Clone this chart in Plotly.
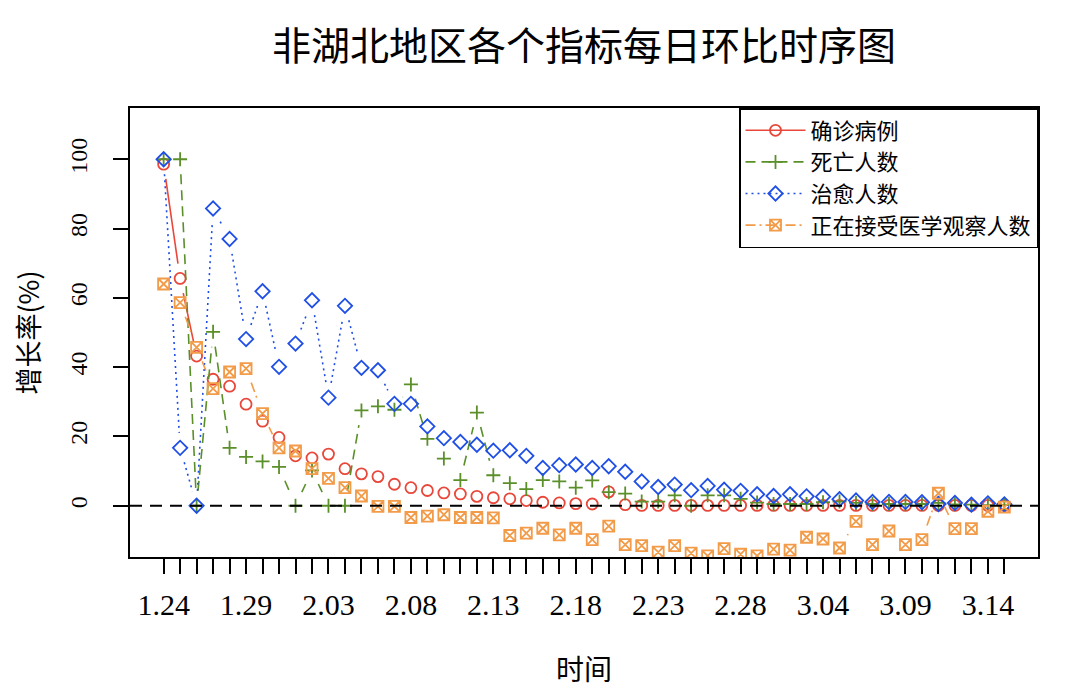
import math
import plotly.graph_objects as go

# ---------------- data ----------------
days = ["1.24", "1.25", "1.26", "1.27", "1.28", "1.29", "1.30", "1.31",
        "2.01", "2.02", "2.03", "2.04", "2.05", "2.06", "2.07", "2.08", "2.09", "2.10",
        "2.11", "2.12", "2.13", "2.14", "2.15", "2.16", "2.17", "2.18", "2.19", "2.20",
        "2.21", "2.22", "2.23", "2.24", "2.25", "2.26", "2.27", "2.28", "2.29",
        "3.01", "3.02", "3.03", "3.04", "3.05", "3.06", "3.07", "3.08", "3.09", "3.10",
        "3.11", "3.12", "3.13", "3.14", "3.15"]

confirmed = [98.6, 65.6, 43.2, 36.5, 34.5, 29.3, 24.4, 19.7, 14.4, 13.8,
             14.9, 10.7, 9.2, 8.4, 6.2, 5.2, 4.4, 3.7, 3.4, 2.7,
             2.3, 2.0, 1.5, 1.0, 0.8, 0.6, 0.5, 4.0, 0.3, 0.1,
             0.1, 0.1, 0.1, 0.1, 0.1, 0.1, 0.1, 0.1, 0.1, 0.1,
             0.1, 0.1, 0.1, 0.1, 0.1, 0.1, 0.1, 0.1, 0.1, 0.1, 0.1, 0.1]

deaths = [100, 100, 0, 50.2, 16.7, 14.1, 12.8, 11.2, 0, 10.2,
          0, 0, 27.5, 28.7, 27.7, 35.0, 19.3, 13.6, 7.4, 26.9,
          8.8, 6.5, 4.8, 7.4, 7.0, 5.2, 7.3, 3.9, 3.5, 1.2,
          1.2, 3.0, 0, 3.0, 3.0, 2.0, 0.9, 0.5, 0.5, 0.5,
          1.0, 1.2, 0.8, 0.5, 0.5, 0.5, 0.5, 0.8, 0.4, 0.3, 0.2, 0.2]

cured = [100, 16.7, 0, 85.8, 77.0, 48.1, 61.9, 40.1, 46.8, 59.3,
         31.2, 57.7, 39.8, 39.1, 29.4, 29.4, 22.9, 19.5, 18.4, 17.6,
         15.9, 16.0, 14.4, 10.9, 11.7, 11.9, 10.9, 11.4, 9.8, 7.0,
         5.4, 6.1, 4.5, 5.7, 4.6, 4.3, 3.3, 2.8, 3.3, 2.7,
         2.6, 1.9, 1.5, 1.1, 1.1, 1.1, 1.0, 0.5, 0.8, 0.3, 0.7, 0.4]

observation = [64.0, 58.6, 45.7, 33.8, 38.6, 39.6, 26.6, 16.7, 15.8, 10.7,
               7.9, 5.2, 2.8, -0.2, -0.2, -3.4, -3.0, -2.6, -3.4, -3.4,
               -3.5, -8.6, -7.9, -6.5, -8.4, -6.5, -9.8, -5.9, -11.2, -11.5,
               -13.4, -11.5, -13.7, -14.5, -12.4, -14.0, -14.5, -12.5, -12.8, -9.1,
               -9.6, -12.2, -4.5, -11.2, -7.3, -11.2, -9.8, 3.6, -6.6, -6.6, -1.6, -0.4]

series_names = ["确诊病例", "死亡人数", "治愈人数", "正在接受医学观察人数"]
y_ticks = [0, 20, 40, 60, 80, 100]

# ---------------- layout constants ----------------
OFF = 8  # page body margin
W, H = 1080 - OFF, 696 - OFF
ML, MR, MT, MB = 130 - OFF, 42, 108 - OFF, 139
n = len(days)
xs = list(range(n))
ext = 0.04 * (n - 1)
x_range = [-ext, n - 1 + ext]
y_range = [-14.8, 114.8]
pw, ph = W - ML - MR, H - MT - MB
sx = pw / (x_range[1] - x_range[0])
sy = ph / (y_range[1] - y_range[0])
GAP = 15  # px gap around points (R type="b")


def gapped(xv, yv):
    gx, gy = [], []
    for i in range(len(xv) - 1):
        dx = (xv[i + 1] - xv[i]) * sx
        dy = (yv[i + 1] - yv[i]) * sy
        d = math.hypot(dx, dy)
        if d > 2 * GAP:
            t = GAP / d
            gx += [xv[i] + t * (xv[i + 1] - xv[i]), xv[i + 1] - t * (xv[i + 1] - xv[i]), None]
            gy += [yv[i] + t * (yv[i + 1] - yv[i]), yv[i + 1] - t * (yv[i + 1] - yv[i]), None]
    return gx, gy


styles = [
    dict(color="#E8473A", dash="solid", symbol="circle-open", size=11),
    dict(color="#5A8F29", dash="10px,6px", symbol="cross-thin-open", size=10),
    dict(color="#1F4FE6", dash="2px,4px", symbol="diamond-open", size=11),
    dict(color="#F29B48", dash="10px,4px,2px,4px", symbol="square-x-open", size=11),
]
data = [confirmed, deaths, cured, observation]

fig = go.Figure()
for name, vals, st in zip(series_names, data, styles):
    gx, gy = gapped(xs, vals)
    fig.add_trace(go.Scatter(x=gx, y=gy, mode="lines", showlegend=False,
                             line=dict(color=st["color"], width=1.6, dash=st["dash"]),
                             hoverinfo="skip"))
    fig.add_trace(go.Scatter(x=xs, y=vals, mode="markers", showlegend=False, name=name,
                             marker=dict(symbol=st["symbol"], size=st["size"], color=st["color"],
                                         line=dict(width=1.8, color=st["color"]))))
for name, st in zip(series_names, styles):
    fig.add_trace(go.Scatter(x=[None], y=[None], mode="lines+markers", name=name,
                             line=dict(color=st["color"], width=1.6, dash=st["dash"]),
                             marker=dict(symbol=st["symbol"], size=st["size"], color=st["color"],
                                         line=dict(width=1.8, color=st["color"]))))

fig.add_shape(type="line", xref="paper", yref="y", x0=0, x1=1, y0=0, y1=0,
              line=dict(color="black", width=1.8, dash="12px,8px"))

tick_text = [d if i % 5 == 0 else "" for i, d in enumerate(days)]

fig.update_layout(
    width=W, height=H,
    margin=dict(l=ML, r=MR, t=MT, b=MB),
    paper_bgcolor="white", plot_bgcolor="white",
    title=dict(text="非湖北地区各个指标每日环比时序图", x=0.5, xref="paper", xanchor="center",
               y=1 - (46 - OFF) / H, yref="container", yanchor="middle",
               font=dict(family="Noto Sans CJK SC", size=39, color="black")),
    xaxis=dict(range=x_range, tickvals=xs, ticktext=tick_text, ticks="outside", ticklen=15,
               tickwidth=1.5, tickcolor="black", showline=True, linecolor="black", linewidth=1.5,
               mirror=True, showgrid=False, zeroline=False, ticklabelstandoff=5, automargin=False,
               tickfont=dict(family="Liberation Serif", size=30, color="black")),
    yaxis=dict(range=y_range, tickvals=y_ticks, ticks="outside", ticklen=15, tickwidth=1.5,
               tickcolor="black", showline=True, linecolor="black", linewidth=1.5, mirror=True,
               showgrid=False, zeroline=False, tickangle=-90, ticklabelstandoff=17, automargin=False,
               tickfont=dict(family="Liberation Serif", size=24, color="black"),
               title=dict(text="增长率(%)", standoff=34,
                          font=dict(family="Noto Sans CJK SC", size=27, color="black"))),
    legend=dict(x=1, y=1, xanchor="right", yanchor="top", bgcolor="white",
                bordercolor="black", borderwidth=1.5, itemwidth=60, tracegroupgap=0,
                font=dict(family="Noto Sans CJK SC", size=22, color="black")),
    annotations=[
        dict(text="时间", xref="paper", yref="paper", x=0.5, y=-(668 - 557) / ph,
             showarrow=False, xanchor="center", yanchor="middle",
             font=dict(family="Noto Sans CJK SC", size=28, color="black")),
    ],
)

fig.write_html("out.html")
